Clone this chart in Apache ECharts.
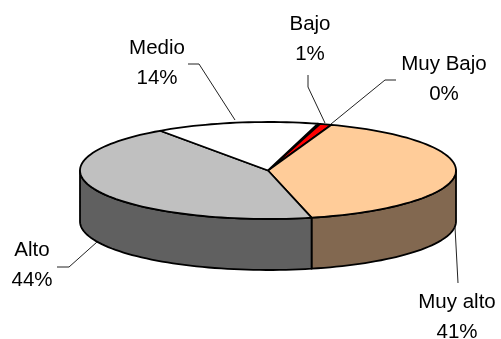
<!DOCTYPE html>
<html>
<head>
<meta charset="utf-8">
<style>html,body{margin:0;padding:0;background:#fff}#c{width:501px;height:339px}</style>
<script src="https://cdn.jsdelivr.net/npm/echarts@6/dist/echarts.min.js"></script>
</head>
<body>
<div id="c"></div>
<script>
var categories = ['Muy Bajo', 'Bajo', 'Muy alto', 'Alto', 'Medio'];
var values = [0.2, 1, 40.8, 44, 14];
var percentLabels = ['0%', '1%', '41%', '44%', '14%'];
var topColors = ['#FFFF99', '#FF0000', '#FFCC99', '#C0C0C0', '#FFFFFF'];
var sideColors = ['#808050', '#800000', '#826850', '#606060', '#808080'];

var CX = 268, CY = 170.5, RX = 188, RY = 48.5, DEPTH = 51, START = 15.4;
var total = values.reduce(function (a, b) { return a + b; }, 0);
function sliceRange(i) {
  var before = 0;
  for (var k = 0; k < i; k++) before += values[k];
  return [START + before / total * 360, START + (before + values[i]) / total * 360];
}
function pt(deg, dy) {
  var r = deg * Math.PI / 180;
  return [CX + RX * Math.sin(r), CY - RY * Math.cos(r) + (dy || 0)];
}
function arc(a, b, dy) {
  var pts = [], n = Math.max(2, Math.ceil(Math.abs(b - a) / 2));
  for (var j = 0; j <= n; j++) pts.push(pt(a + (b - a) * j / n, dy));
  return pts;
}
var edge = { stroke: '#000', lineWidth: 1.8, lineJoin: 'round' };
function style(fill) { return Object.assign({ fill: fill }, edge); }

function renderWall(params) {
  var i = params.dataIndex, r = sliceRange(i);
  var a = Math.max(r[0], 90), b = Math.min(r[1], 270);
  if (b <= a) return { type: 'group', children: [] };
  return {
    type: 'polygon',
    shape: { points: arc(a, b, 0).concat(arc(b, a, DEPTH)) },
    style: style(sideColors[i])
  };
}
function renderTop(params) {
  var i = params.dataIndex, r = sliceRange(i);
  return {
    type: 'polygon',
    shape: { points: [[CX, CY]].concat(arc(r[0], r[1], 0)) },
    style: style(topColors[i])
  };
}

// label layout: [category index, centre x, first line y]
var labelSpots = [[0, 444, 64], [1, 310, 24], [2, 457, 302], [3, 32, 250], [4, 157, 48]];
var leaders = [
  [[396, 80], [385, 80], [331, 124]],
  [[308, 75], [308, 87], [325, 123]],
  [[458, 283], [455, 227]],
  [[57, 267], [69, 267], [97, 242]],
  [[188, 64], [199, 64], [235, 120]]
];
var graphics = [];
leaders.forEach(function (p) {
  graphics.push({ type: 'polyline', silent: true, z: 5, shape: { points: p },
    style: { stroke: '#222', lineWidth: 1, fill: null } });
});
labelSpots.forEach(function (s) {
  [categories[s[0]], percentLabels[s[0]]].forEach(function (t, n) {
    graphics.push({ type: 'text', silent: true, z: 6, x: s[1], y: s[2] + n * 30,
      style: { text: t, fill: '#000', font: '20.5px "Liberation Sans", Arial, sans-serif',
        align: 'center', verticalAlign: 'middle' } });
  });
});

var chart = echarts.init(document.getElementById('c'), null, { renderer: 'canvas' });
chart.setOption({
  animation: false,
  backgroundColor: '#fff',
  graphic: graphics,
  series: [
    { type: 'custom', coordinateSystem: 'none', silent: true, z: 1, data: values, renderItem: renderWall },
    { type: 'custom', coordinateSystem: 'none', silent: true, z: 2, data: values, renderItem: renderTop }
  ]
});
</script>
</body>
</html>
